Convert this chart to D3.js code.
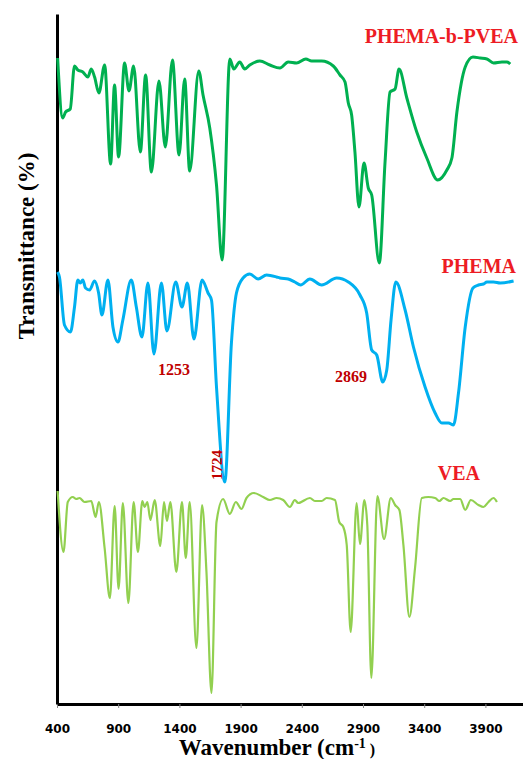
<!DOCTYPE html>
<html>
<head>
<meta charset="utf-8">
<script src="https://cdn.jsdelivr.net/npm/d3@7"></script>
<style>
  body { margin: 0; background: #fff; }
  svg { display: block; }
  .axis text { font-family: "DejaVu Sans", Verdana, sans-serif; font-weight: bold; font-size: 12px; fill: #000; }
  .axis .tick line { stroke: #888; }
  .title { font-family: "Liberation Serif", "Times New Roman", serif; font-weight: bold; }
</style>
</head>
<body>
<svg id="chart"></svg>
<script>
// wavenumber (cm-1) and stacked transmittance (a.u., offset per spectrum)
const waveCopolymer = [405, 447, 470, 508, 543, 570, 611, 652, 680, 707, 742, 789, 838, 870, 903, 952, 988, 1026, 1081, 1124, 1171, 1233, 1285, 1343, 1397, 1443, 1484, 1558, 1593, 1648, 1703, 1749, 1812, 1844, 1893, 1934, 1975, 2057, 2139, 2221, 2289, 2357, 2433, 2480, 2562, 2657, 2712, 2753, 2780, 2807, 2834, 2867, 2908, 2943, 2971, 3033, 3080, 3121, 3162, 3194, 3258, 3339, 3421, 3511, 3585, 3626, 3667, 3735, 3798, 3857, 3912, 3966, 4035, 4076, 4103];
const transCopolymer = [646, 586, 592, 595, 638, 634, 632, 627, 635, 627, 611, 639, 540, 619, 547, 641, 613, 638, 552, 629, 532, 623, 557, 644, 549, 625, 533, 633, 609, 576, 519, 444, 645, 635, 642, 635, 639, 643, 639, 636, 642, 641, 645, 643, 643, 638, 629, 622, 601, 589, 552, 497, 541, 516, 509, 441, 542, 612, 615, 635, 606, 572, 546, 524, 534, 546, 592, 637, 647, 646, 645, 641, 642, 642, 640];

const wavePhema = [405, 420, 461, 510, 543, 570, 590, 611, 633, 666, 707, 740, 767, 816, 857, 898, 938, 1007, 1048, 1094, 1143, 1192, 1253, 1298, 1370, 1421, 1465, 1519, 1585, 1634, 1662, 1703, 1771, 1825, 1866, 1920, 1975, 2043, 2112, 2194, 2221, 2289, 2343, 2390, 2466, 2562, 2685, 2780, 2875, 2930, 2971, 3012, 3061, 3094, 3129, 3168, 3244, 3312, 3407, 3489, 3544, 3598, 3639, 3680, 3735, 3798, 3843, 3884, 3912, 3966, 4021, 4130];
const transPhema = [432, 427, 379, 372, 397, 424, 421, 424, 416, 414, 423, 411, 389, 424, 377, 362, 384, 424, 397, 367, 421, 350, 421, 373, 422, 397, 421, 365, 424, 411, 404, 317, 222, 361, 411, 426, 430, 425, 429, 427, 426, 425, 422, 419, 425, 419, 426, 422, 409, 391, 354, 349, 322, 334, 384, 422, 394, 357, 317, 291, 281, 281, 279, 311, 377, 416, 419, 420, 422, 422, 421, 423];

const waveVea = [405, 453, 488, 529, 557, 584, 625, 680, 715, 742, 789, 832, 871, 903, 938, 983, 1026, 1061, 1097, 1116, 1138, 1163, 1198, 1244, 1274, 1298, 1326, 1375, 1421, 1452, 1484, 1539, 1585, 1621, 1662, 1703, 1757, 1812, 1861, 1907, 1948, 2008, 2084, 2139, 2194, 2248, 2303, 2343, 2370, 2466, 2507, 2562, 2603, 2671, 2706, 2739, 2767, 2799, 2848, 2875, 2911, 2935, 2968, 3017, 3072, 3127, 3162, 3197, 3230, 3279, 3325, 3380, 3434, 3489, 3524, 3557, 3612, 3639, 3694, 3735, 3781, 3843, 3884, 3925, 3966, 3994];
const transVea = [213, 152, 202, 207, 205, 206, 202, 203, 187, 202, 156, 106, 198, 115, 201, 101, 202, 152, 203, 197, 202, 184, 204, 158, 202, 183, 202, 132, 202, 146, 202, 56, 199, 132, 11, 182, 205, 190, 202, 195, 206, 211, 207, 204, 206, 204, 197, 204, 201, 206, 203, 203, 206, 204, 182, 177, 159, 72, 201, 160, 204, 179, 26, 208, 165, 206, 199, 194, 159, 87, 136, 206, 207, 206, 203, 206, 203, 205, 205, 194, 204, 199, 197, 202, 206, 202];

const seriesNames = ['PHEMA-b-PVEA', 'PHEMA', 'VEA'];
const seriesColors = ['#00b050', '#00b0f0', '#92d050'];
const xTicks = [400, 900, 1400, 1900, 2400, 2900, 3400, 3900];
const peakLabels = ['1253', '2869', '1724'];

const width = 523, height = 759;
const margin = { top: 14, right: 0, bottom: 55, left: 57 };

const svg = d3.select('#chart')
  .attr('width', width)
  .attr('height', height);

const x = d3.scaleLinear()
  .domain([400, 4207])
  .range([margin.left, width - margin.right]);

const y = d3.scaleLinear()
  .domain([0, 690])
  .range([height - margin.bottom, margin.top]);

/* x axis */
const xAxis = svg.append('g')
  .attr('class', 'axis')
  .attr('transform', `translate(0, ${height - margin.bottom})`)
  .call(d3.axisBottom(x).tickValues(xTicks).tickSize(4).tickSizeOuter(0).tickPadding(16).tickFormat(d3.format('d')));
xAxis.select('.domain').attr('stroke', '#000').attr('stroke-width', 3);

/* y axis: bare line */
const yAxis = svg.append('g')
  .attr('class', 'axis')
  .attr('transform', `translate(${margin.left}, 0)`)
  .call(d3.axisLeft(y).tickValues([]).tickSizeOuter(0));
yAxis.select('.domain').attr('stroke', '#000').attr('stroke-width', 3);

/* spectra */
const spectra = [
  { wave: waveCopolymer, trans: transCopolymer, width: 3 },
  { wave: wavePhema, trans: transPhema, width: 3 },
  { wave: waveVea, trans: transVea, width: 2.2 }
];
const line = d3.line()
  .x(d => x(d[0]))
  .y(d => y(d[1]))
  .curve(d3.curveMonotoneX);

spectra.forEach((s, i) => {
  svg.append('path')
    .datum(s.wave.map((w, j) => [w, s.trans[j]]))
    .attr('fill', 'none')
    .attr('stroke', seriesColors[i])
    .attr('stroke-width', s.width)
    .attr('stroke-linejoin', 'round')
    .attr('d', line);
});

/* series names */
const namePos = [[518, 43], [516, 273], [480, 480]];
seriesNames.forEach((n, i) => {
  svg.append('text')
    .attr('class', 'title')
    .attr('x', namePos[i][0])
    .attr('y', namePos[i][1])
    .attr('text-anchor', 'end')
    .attr('fill', '#ed1c24')
    .style('font-size', '20px')
    .text(n);
});

/* peak annotations */
svg.append('text').attr('class', 'title')
  .attr('x', 158).attr('y', 375)
  .attr('fill', '#c00000').style('font-size', '16px')
  .text(peakLabels[0]);
svg.append('text').attr('class', 'title')
  .attr('x', 335).attr('y', 382)
  .attr('fill', '#c00000').style('font-size', '16px')
  .text(peakLabels[1]);
svg.append('text').attr('class', 'title')
  .attr('transform', 'translate(222, 465) rotate(-90)')
  .attr('text-anchor', 'middle')
  .attr('fill', '#c00000').style('font-size', '15px')
  .text(peakLabels[2]);

/* axis titles */
const xt = svg.append('text').attr('class', 'title')
  .attr('x', 277).attr('y', 755)
  .attr('text-anchor', 'middle')
  .style('font-size', '23px');
xt.append('tspan').text('Wavenumber (cm');
xt.append('tspan').attr('dy', -7).style('font-size', '14px').text('-1');
xt.append('tspan').attr('dy', 7).style('font-size', '16px').text(' )');

svg.append('text').attr('class', 'title')
  .attr('transform', 'translate(34, 246) rotate(-90)')
  .attr('text-anchor', 'middle')
  .style('font-size', '23px')
  .text('Transmittance (%)');
</script>
</body>
</html>
